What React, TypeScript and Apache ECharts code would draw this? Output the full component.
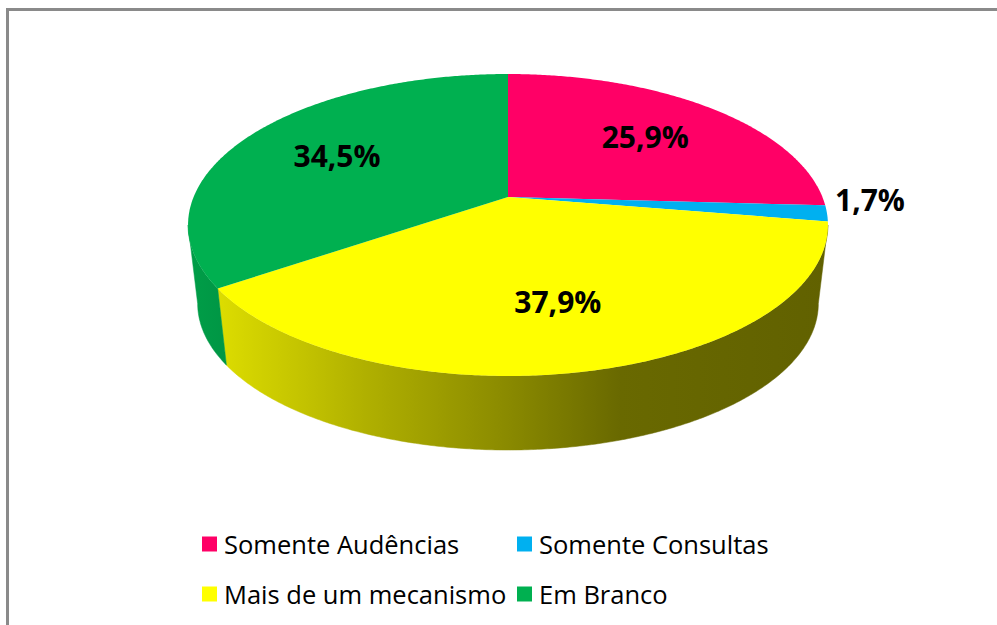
import React, { useEffect, useRef } from 'react';
import * as echarts from 'echarts';

// ---- data ----
const categories = ['Somente Audências', 'Somente Consultas', 'Mais de um mecanismo', 'Em Branco'];
const shares = [25.9, 1.7, 37.9, 34.5];
const colors = ['#FF0066', '#00B0F0', '#FFFF00', '#00B050'];

// ---- layout / 3D look ----
const CX = 508;
const CY = 197;
const RX = 314.4;
const RY = 145.8;
const PERSP = 0.1854;
const BOTTOM_SCALE = 0.97;
const CYB = 276.4;
const SIDE_LIGHT = [
  [0, 0.9],
  [0.277, 0.69],
  [0.4875, 0.55],
  [0.675, 0.41],
  [1, 0.38],
];

const total = shares.reduce((a, b) => a + b, 0);

function sliceAngles(i: number): [number, number] {
  let s = 0;
  for (let j = 0; j < i; j++) s += shares[j];
  return [(s / total) * Math.PI * 2, ((s + shares[i]) / total) * Math.PI * 2];
}

function proj(theta: number, r: number, bottom: boolean): number[] {
  const sc = bottom ? BOTTOM_SCALE : 1;
  const cy = bottom ? CYB : CY;
  const d = 1 + PERSP * r * Math.cos(theta);
  return [CX + (RX * sc * r * Math.sin(theta)) / d, cy - (RY * sc * r * Math.cos(theta)) / d];
}

function arc(a1: number, a2: number, bottom: boolean): number[][] {
  const n = Math.max(2, Math.ceil((a2 - a1) / (Math.PI / 360)));
  const pts: number[][] = [];
  for (let k = 0; k <= n; k++) pts.push(proj(a1 + ((a2 - a1) * k) / n, 1, bottom));
  return pts;
}

function shade(hex: string, f: number): string {
  const v = parseInt(hex.slice(1), 16);
  const r = Math.round(((v >> 16) & 255) * f);
  const g = Math.round(((v >> 8) & 255) * f);
  const b = Math.round((v & 255) * f);
  return `rgb(${r},${g},${b})`;
}

function fmt(v: number): string {
  return v.toFixed(1).replace('.', ',') + '%';
}

const thetaL = Math.acos(-PERSP);
const thetaR = Math.PI * 2 - thetaL;

export default function App() {
  const ref = useRef<HTMLDivElement>(null);
  useEffect(() => {
    document.body.style.margin = '0';
    if (!ref.current) return;
    const chart = echarts.init(ref.current, null, { renderer: 'svg' });

    const topSeries = categories.map((name, i) => ({
      type: 'custom',
      name,
      coordinateSystem: 'none',
      z: 2,
      silent: true,
      itemStyle: { color: colors[i] },
      data: [[shares[i]]],
      renderItem: (params: any, api: any) => {
        const [a1, a2] = sliceAngles(i);
        const pts = [[CX, CY], ...arc(a1, a2, false)];
        const mid = (a1 + a2) / 2;
        const v = api.value(0);
        const small = v / total < 0.05;
        let lx: number, ly: number, align: string;
        if (small) {
          const p = proj(mid, 1, false);
          lx = p[0] + (Math.sin(mid) >= 0 ? 8 : -8);
          ly = p[1] - 14;
          align = Math.sin(mid) >= 0 ? 'left' : 'right';
        } else {
          const p = proj(mid, 0.65, false);
          lx = p[0];
          ly = p[1];
          align = 'center';
        }
        return {
          type: 'group',
          children: [
            { type: 'polygon', shape: { points: pts }, style: { fill: colors[i] } },
            {
              type: 'text',
              z2: 10,
              style: {
                text: fmt(v),
                x: lx,
                y: ly,
                fill: '#000',
                fontSize: 30,
                fontWeight: 'bold',
                fontFamily: '"Open Sans", sans-serif',
                align,
                verticalAlign: 'middle',
              },
            },
          ],
        };
      },
    }));

    const sideSeries = {
      type: 'custom',
      name: 'side',
      coordinateSystem: 'none',
      z: 1,
      silent: true,
      data: shares.map((v, i) => [i, v]),
      renderItem: (params: any, api: any) => {
        const i = api.value(0);
        const [a1, a2] = sliceAngles(i);
        const s1 = Math.max(a1, thetaL);
        const s2 = Math.min(a2, thetaR);
        if (s1 >= s2) return { type: 'group', children: [] };
        const top = arc(s1, s2, false);
        const bot = arc(s1, s2, true).reverse();
        const left = proj(thetaR, 1, false)[0];
        const right = proj(thetaL, 1, false)[0];
        const grad = new echarts.graphic.LinearGradient(
          left, 0, right, 0,
          SIDE_LIGHT.map(([o, f]) => ({ offset: o, color: shade(colors[i], f) })),
          true
        );
        return {
          type: 'polygon',
          shape: { points: [...top, ...bot] },
          style: { fill: grad, stroke: grad, lineWidth: 0.5 },
        };
      },
    };

    const legendBase = {
      orient: 'vertical',
      top: 531,
      padding: 0,
      icon: 'rect',
      itemWidth: 15,
      itemHeight: 15,
      itemGap: 24,
      selectedMode: false,
      textStyle: {
        fontFamily: '"Open Sans", sans-serif',
        fontSize: 25.5,
        lineHeight: 26,
        color: '#000',
        padding: [0, 0, 0, 2],
      },
    };

    chart.setOption({
      animation: false,
      backgroundColor: '#fff',
      legend: [
        { ...legendBase, left: 202, data: [categories[0], categories[2]] },
        { ...legendBase, left: 517, data: [categories[1], categories[3]] },
      ],
      graphic: [
        {
          type: 'rect',
          silent: true,
          z: -10,
          shape: { x: 7.5, y: 9.5, width: 1200, height: 900 },
          style: { fill: 'none', stroke: '#8a8a8a', lineWidth: 3 },
        },
      ],
      series: [sideSeries, ...topSeries],
    });

    return () => chart.dispose();
  }, []);
  return <div ref={ref} style={{ width: 997, height: 625 }} />;
}
